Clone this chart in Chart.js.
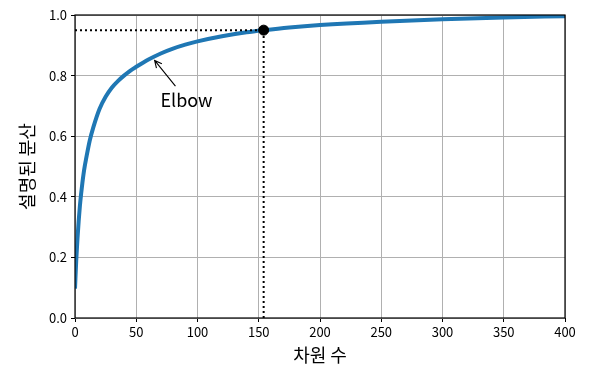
<!DOCTYPE html>
<html>
<head>
<meta charset="utf-8">
<script src="https://cdn.jsdelivr.net/npm/chart.js@4/dist/chart.umd.min.js"></script>
<style>
  html, body { margin: 0; padding: 0; background: #fff; }
  #wrap { width: 596px; height: 381px; }
</style>
</head>
<body>
<div id="wrap"><canvas id="chart" width="596" height="381"></canvas></div>
<script>
// 차원 수 (x) 와 누적 설명된 분산 (y)
const dims = [0, 1, 2, 3, 4, 5, 6, 7, 8, 9, 12, 15, 20, 25, 30, 35, 40, 45, 50, 60, 70, 80, 90, 100, 120, 140, 154, 175, 200, 250, 300, 350, 400];
const cumVar = [0.097, 0.19, 0.26, 0.32, 0.37, 0.41, 0.445, 0.476, 0.502, 0.524, 0.585, 0.63, 0.69, 0.73, 0.76, 0.782, 0.800, 0.816, 0.829, 0.853, 0.873, 0.889, 0.902, 0.913, 0.930, 0.943, 0.950, 0.959, 0.967, 0.978, 0.986, 0.992, 0.996];
const elbowD = 154;
const elbowVar = 0.95;
const xTicks = [0, 50, 100, 150, 200, 250, 300, 350, 400];
const yTicks = [0.0, 0.2, 0.4, 0.6, 0.8, 1.0];
// 주석: 화살표 끝, 글자 위치 (데이터 좌표)
const arrowTip = [65, 0.85];
const arrowTail = [82, 0.765];
const labelPos = [91, 0.72];

const fontKr = "'Noto Sans CJK KR', 'Noto Sans', sans-serif";

const frameAndNote = {
  id: "frameAndNote",
  afterDatasetsDraw(chart) {
    const { ctx, chartArea: a, scales: { x, y } } = chart;
    ctx.save();
    // 화살표
    const tx = x.getPixelForValue(arrowTip[0]), ty = y.getPixelForValue(arrowTip[1]);
    const sx = x.getPixelForValue(arrowTail[0]), sy = y.getPixelForValue(arrowTail[1]);
    ctx.strokeStyle = "#000";
    ctx.lineWidth = 1.1;
    ctx.beginPath();
    ctx.moveTo(sx, sy);
    ctx.lineTo(tx, ty);
    const ang = Math.atan2(ty - sy, tx - sx);
    const hl = 8;
    ctx.moveTo(tx - hl * Math.cos(ang - 0.45), ty - hl * Math.sin(ang - 0.45));
    ctx.lineTo(tx, ty);
    ctx.lineTo(tx - hl * Math.cos(ang + 0.45), ty - hl * Math.sin(ang + 0.45));
    ctx.stroke();
    // 글자
    ctx.fillStyle = "#000";
    ctx.font = "18px " + fontKr;
    ctx.textAlign = "center";
    ctx.textBaseline = "middle";
    ctx.fillText("Elbow", x.getPixelForValue(labelPos[0]), y.getPixelForValue(labelPos[1]));
    // 테두리
    ctx.lineWidth = 1.2;
    ctx.strokeRect(a.left, a.top, a.right - a.left, a.bottom - a.top);
    ctx.restore();
  }
};

new Chart(document.getElementById("chart"), {
  type: "line",
  data: {
    datasets: [
      {
        data: dims.map((d, i) => ({ x: d, y: cumVar[i] })),
        borderColor: "#1f77b4",
        borderWidth: 4,
        pointRadius: 0,
        cubicInterpolationMode: "monotone",
        order: 2
      },
      {
        data: [{ x: 0, y: elbowVar }, { x: elbowD, y: elbowVar }],
        borderColor: "#000",
        borderWidth: 2,
        borderDash: [2, 3],
        pointRadius: 0,
        order: 1
      },
      {
        data: [{ x: elbowD, y: 0 }, { x: elbowD, y: elbowVar }],
        borderColor: "#000",
        borderWidth: 2,
        borderDash: [2, 3],
        pointRadius: 0,
        order: 1
      },
      {
        data: [{ x: elbowD, y: elbowVar }],
        showLine: false,
        pointRadius: 5,
        pointBackgroundColor: "#000",
        pointBorderColor: "#000",
        order: 0
      }
    ]
  },
  options: {
    responsive: false,
    animation: false,
    layout: { padding: { left: 0, right: 31, top: 15, bottom: 0 } },
    plugins: { legend: { display: false }, tooltip: { enabled: false } },
    scales: {
      x: {
        type: "linear",
        min: 0,
        max: 400,
        afterBuildTicks: (s) => { s.ticks = xTicks.map(v => ({ value: v })); },
        afterFit: (s) => { s.height = 63; },
        grid: { color: "#b0b0b0", tickColor: "#000", tickLength: 4, lineWidth: 1 },
        border: { display: false },
        ticks: { color: "#000", font: { family: fontKr, size: 13 }, padding: 2, maxRotation: 0 },
        title: { display: true, text: "차원 수", color: "#000", font: { family: fontKr, size: 18 }, padding: { top: 0, bottom: 15 } }
      },
      y: {
        min: 0,
        max: 1,
        afterBuildTicks: (s) => { s.ticks = yTicks.map(v => ({ value: v })); },
        afterFit: (s) => { s.width = 75; },
        grid: { color: "#b0b0b0", tickColor: "#000", tickLength: 4, lineWidth: 1 },
        border: { display: false },
        ticks: { color: "#000", font: { family: fontKr, size: 13 }, padding: 4, callback: (v) => v.toFixed(1) },
        title: { display: true, text: "설명된 분산", color: "#000", font: { family: fontKr, size: 18 }, padding: { top: 16, bottom: 0 } }
      }
    }
  },
  plugins: [frameAndNote]
});
</script>
</body>
</html>
